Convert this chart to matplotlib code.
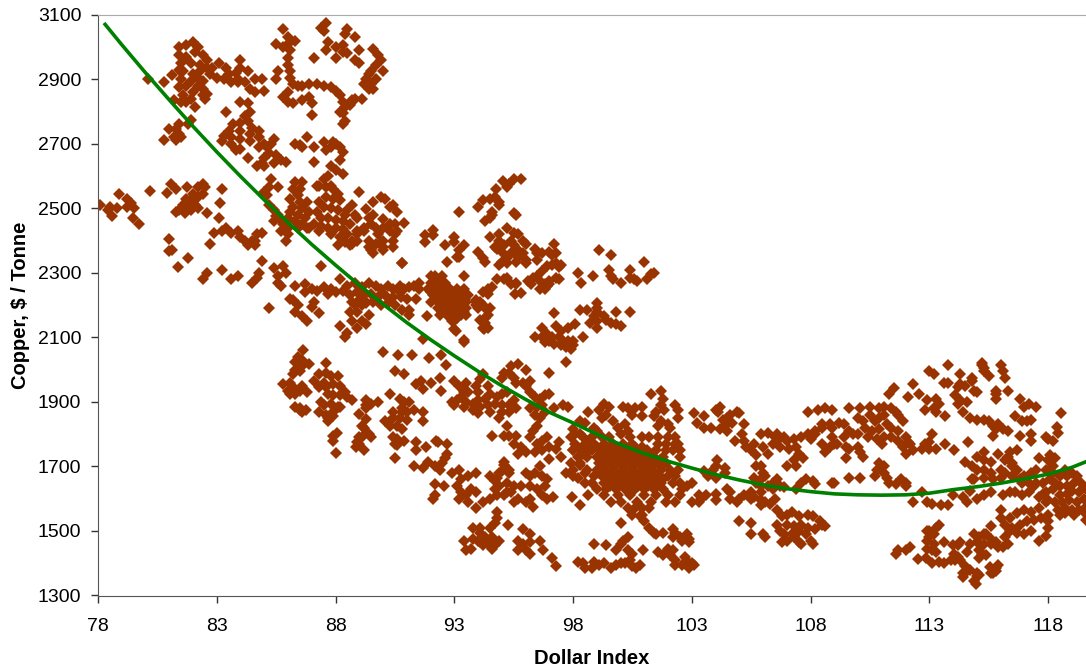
import matplotlib
matplotlib.use("Agg")
import matplotlib.pyplot as plt

plt.rcParams['font.family'] = ['Liberation Sans', 'DejaVu Sans']

# Dollar index / copper readings, grouped by area of the cloud
top_left = [(81.4,3000),(81.7,3005),(82.0,3015),(82.2,3000),(81.4,2975),(81.7,2970),(82.1,2985),(82.4,2975),
    (81.5,2950),(81.9,2950),(82.3,2945),(82.6,2960),(81.4,2930),(81.6,2925),(82.0,2915),(82.3,2925),(82.6,2935),
    (82.8,2935),(82.7,2915),(82.2,2905),(81.5,2900),(81.9,2895),(82.4,2895),(80.1,2900),(80.8,2890),(81.1,2914),
    (81.4,2875),(81.7,2880),(82.2,2880),(82.4,2870),(82.0,2860),(81.6,2850),(81.2,2835),(81.5,2830),(81.9,2840),
    (82.4,2850),(82.5,2840),(82.1,2815),(81.7,2830),(82.6,2855),
    (83.1,2950),(83.4,2935),(83.8,2920),(84.0,2960),(84.0,2935),(84.3,2925),(84.6,2900),(84.9,2900),(83.0,2905),
    (83.3,2900),(83.6,2890),(83.9,2900),(84.2,2890),(84.4,2870),(84.6,2860),(85.0,2865),(83.5,2915),(83.9,2890)]
top_mid = [(85.8,3055),(86.0,3030),(86.0,3010),(86.3,3020),(85.5,3010),(85.8,3000),(86.1,2990),(86.0,2965),(86.0,2945),
    (86.1,2925),(86.1,2905),(86.2,2885),(86.4,2880),(86.6,2880),(86.9,2885),(85.6,2925),(85.5,2900),(86.0,2860),
    (85.8,2845),(86.0,2830),(86.2,2825),(86.6,2835),(87.0,2825),(86.9,2845),(87.0,2790),(87.1,2965),
    (87.4,3060),(87.6,3075),(87.5,3050),(87.7,3015),(87.6,2990),(88.0,2965),(88.0,3000),(88.3,3005),(88.4,3040),
    (88.5,3055),(88.8,3030),(88.3,2985),(88.5,2980),(88.8,2960),(89.0,2990),(89.0,2950),(89.6,2995),(89.8,2975),
    (89.9,2960),(89.7,2945),(89.5,2925),(89.4,2915),(89.3,2900),(89.5,2885),(89.7,2900),(89.2,2885),(89.4,2870),
    (90.0,2925),(89.6,2869),(89.1,2840),(87.2,2885),(87.5,2880),(87.8,2875),(88.0,2865),(88.2,2850),(88.3,2830),
    (88.4,2815),(88.2,2800),(88.6,2820),(88.7,2835),(88.8,2840),(88.3,2795),(88.3,2760),(88.4,2770)]
upper_left = [(83.4,2798),(84.0,2830),(84.3,2825),(84.4,2800),(84.2,2785),(84.0,2765),(84.3,2770),(84.5,2750),(83.7,2760),
    (84.0,2740),(84.4,2730),(84.8,2740),(83.5,2740),(83.3,2725),(83.6,2720),(84.0,2715),(84.4,2710),(84.8,2720),
    (85.0,2700),(85.3,2700),(85.4,2715),(85.1,2690),(84.8,2690),(83.2,2710),(83.6,2700),(83.8,2680),(84.0,2685),
    (85.2,2670),(85.5,2665),(85.7,2650),(85.4,2640),(85.9,2645),(85.0,2655),(84.9,2640),(85.0,2630),(84.3,2655),
    (84.7,2630),(80.8,2713),(81.0,2745),(81.4,2760),(81.3,2745),(81.4,2730),(81.2,2720),(81.5,2720),(81.3,2711),
    (81.8,2760),(81.9,2775),(86.3,2700),(86.5,2695),(86.8,2720),(86.6,2690),(87.1,2690),(87.5,2705),(87.6,2680),
    (87.9,2705),(88.0,2700),(88.2,2690),(88.3,2675),(87.8,2690),(88.2,2650),(87.1,2645)]
mid_cloud = [(85.3,2590),(85.2,2565),(85.0,2550),(85.6,2565),(85.1,2540),(85.2,2510),(85.4,2495),(85.6,2480),(85.9,2450),
    (86.0,2440),(85.7,2465),(85.4,2460),(85.7,2430),(85.9,2400),(86.0,2420),(85.8,2450),(85.5,2475),
    (86.3,2580),(86.6,2580),(87.2,2570),(87.5,2590),(87.7,2600),(87.8,2570),(87.8,2630),(88.0,2620),(88.3,2607),
    (86.2,2560),(86.4,2540),(86.1,2530),(86.5,2520),(86.2,2505),(86.6,2500),(86.8,2520),(86.1,2490),(86.4,2480),
    (86.7,2470),(86.3,2460),(86.6,2450),(86.4,2440),(86.8,2440),(86.0,2470),(86.9,2490),(86.5,2560),(86.9,2440),
    (87.3,2570),(87.6,2565),(87.9,2560),(88.1,2545),(87.6,2535),(87.9,2530),(88.2,2525),(87.3,2520),(87.5,2505),
    (87.8,2500),(88.1,2495),(88.4,2480),(88.7,2510),(87.2,2490),(87.4,2470),(87.7,2470),(88.0,2465),(88.3,2460),
    (88.5,2495),(88.8,2480),(87.1,2450),(87.4,2445),(87.7,2440),(88.0,2440),(88.3,2435),(88.6,2450),(88.9,2470),
    (87.3,2430),(87.8,2420),(88.2,2410),(88.5,2420),(88.7,2400),(88.4,2395),(88.1,2385),(88.6,2385),(88.9,2430),
    (89.0,2551),(89.3,2499),(89.6,2520),(89.9,2535),(90.1,2530),(90.4,2510),(90.6,2490),(90.3,2504),(90.3,2450),
    (89.6,2480),(89.4,2470),(89.5,2450),(89.7,2440),(90.0,2440),(90.3,2430),(90.5,2420),(89.8,2420),(89.2,2430),
    (89.2,2440),(88.9,2420),(89.4,2400),(89.7,2390),(89.9,2395),(90.0,2380),(90.4,2380),(90.4,2400),(90.6,2430),
    (89.4,2380),(89.5,2370),(89.6,2360),(90.0,2400),(90.0,2370),(90.5,2450),(90.9,2453),(90.0,2468),(88.7,2390),
    (88.9,2400),(90.8,2330)]
left_low = [(78.1,2510),(78.4,2495),(78.6,2475),(78.8,2500),(78.5,2505),(78.9,2545),(79.2,2530),(79.4,2515),(79.2,2505),
    (79.5,2500),(79.46,2471),(79.74,2452),(80.2,2555),(81.0,2405),(81.0,2368),(81.1,2370),(81.77,2347),(81.35,2318),
    (80.92,2547),(81.07,2576),(81.3,2560),(81.75,2565),(82.4,2575),(82.5,2565),(82.2,2565),(82.0,2545),(82.2,2535),
    (82.4,2545),(81.7,2530),(81.9,2525),(82.1,2510),(81.6,2510),(81.85,2505),(82.2,2500),(81.4,2495),(81.9,2495),
    (81.28,2489),(81.65,2485),(82.6,2485),(83.1,2470),(83.15,2515),(83.2,2560),(82.9,2425),(83.2,2430),(83.4,2440),
    (83.6,2425),(83.9,2430),(84.0,2410),(84.2,2400),(84.3,2385),(84.5,2400),(84.6,2385),(84.7,2420),(84.9,2425),
    (84.6,2400),(82.7,2390),(84.89,2337),(84.8,2300),(84.7,2285),(83.2,2310),(82.6,2300),(82.4,2280),(83.6,2280),
    (83.9,2290),(84.5,2270),(85.4,2315),(85.8,2320),(85.6,2290),(85.9,2300),(85.6,2270),(85.7,2260),(87.4,2320)]
band_2250 = [(86.3,2260),(86.7,2265),(87.0,2250),(86.7,2240),(87.2,2245),(87.5,2255),(87.7,2235),(86.2,2215),(87.8,2250),
    (88.2,2280),(88.5,2260),(88.8,2270),(89.1,2255),(89.4,2270),(89.7,2260),(89.9,2250),(90.2,2260),(90.4,2250),
    (90.7,2240),(88.0,2240),(88.3,2245),(88.6,2230),(88.9,2240),(89.2,2230),(89.5,2235),(89.8,2225),(90.1,2230),
    (90.4,2225),(88.7,2210),(89.0,2215),(89.3,2205),(89.6,2210),(89.9,2200),(90.2,2205),(90.5,2200),(90.8,2185),
    (90.7,2260),(90.9,2250),(91.1,2255),(91.5,2270),(91.3,2260),(91.5,2250),(90.75,2225),(91.0,2220),(91.4,2220),
    (85.2,2190),(86.1,2220),(86.4,2200),(86.3,2180),(86.6,2165),(86.8,2150),(87.1,2210),(87.3,2175),(87.0,2195),
    (88.2,2135),(88.5,2115),(88.4,2100),(88.7,2150),(88.9,2180),(89.1,2200),(89.3,2140),(89.4,2170),(88.9,2130),
    (89.1,2150),(89.3,2210),(88.8,2200),(88.6,2180),(91.1,2170),(91.1,2185),(91.85,2165),(91.7,2095)]
cluster_93 = {2290: [92.0, 92.2, 92.5, 93.4], 2270: [92.0, 92.3, 92.6], 2250: [91.9, 92.2, 92.5, 92.8, 93.1, 93.4],
    2240: [92.0, 92.35, 92.65, 92.95, 93.25], 2230: [92.1, 92.4, 92.7, 93.0, 93.3, 93.6],
    2220: [92.25, 92.55, 92.85, 93.15, 93.45], 2210: [92.0, 92.3, 92.6, 92.9, 93.2, 93.5],
    2200: [92.45, 92.75, 93.05, 93.35], 2190: [92.3, 92.6, 92.9, 93.2, 93.5], 2180: [92.5, 92.8, 93.1],
    2170: [92.4, 92.7, 93.0, 93.3], 2150: [93.0, 92.9]}
upper_95 = [(91.77,2417),(92.12,2432),(92.12,2417),(91.77,2396),(93.2,2490),(92.6,2385),(93.0,2395),(93.0,2410),(93.4,2385),
    (93.2,2370),(93.1,2348),(92.7,2335),(93.2,2350),(90.8,2330),(94.0,2505),(94.2,2525),(94.5,2530),(94.7,2535),
    (94.9,2520),(94.9,2510),(94.6,2490),(94.6,2480),(94.5,2470),(94.3,2460),(95.5,2484),(95.6,2480),(95.04,2584),
    (95.3,2575),(95.5,2590),(95.2,2565),(95.8,2590),(94.75,2560),(95.2,2440),(94.5,2410),(94.9,2420),(95.5,2425),
    (95.7,2420),(95.9,2400),(96.0,2390),(95.4,2400),(94.9,2400),(94.7,2380),(95.1,2385),(95.5,2385),(95.7,2370),
    (94.0,2365),(94.2,2345),(94.3,2335),(94.8,2375),(95.0,2365),(95.4,2360),(95.7,2350),(95.2,2345),(95.0,2335),
    (94.9,2325),(95.2,2330),(95.6,2335),(96.0,2340),(96.0,2330),(95.9,2360),(96.4,2375),(96.5,2360),(96.7,2360),
    (97.0,2365),(97.2,2390),(97.3,2360),(96.5,2340),(97.1,2355),(96.9,2320),(97.1,2325),(97.3,2330),(97.5,2325),
    (97.4,2318),(96.7,2305),(96.5,2290),(96.3,2285),(96.1,2275),(96.25,2265),(96.6,2275),(96.8,2265),(96.9,2260),
    (97.0,2275),(97.3,2285),(97.4,2280),(96.8,2250),(96.6,2250),(97.0,2265),(98.2,2300),(98.35,2270),(98.85,2290),
    (99.1,2370),(99.6,2355),(99.5,2310),(99.6,2290),(99.7,2280),(100.0,2270),(100.4,2285),(100.55,2280),(100.7,2275),
    (100.4,2310),(101.0,2335),(101.1,2280),(101.3,2295),(101.4,2300),(97.2,2175),(98.3,2184),(98.6,2185),(99.0,2205),
    (99.0,2180),(99.0,2190),(98.9,2165),(98.7,2145),(99.0,2150),(99.0,2130),(99.3,2165),(99.4,2155),(99.6,2145),
    (99.8,2140),(100.0,2135),(99.8,2180),(100.4,2178),(96.4,2100),(96.7,2130),(96.9,2110),(97.1,2100),(97.3,2135),
    (97.5,2120),(97.8,2130),(98.1,2140),(96.8,2085),(97.0,2090),(97.2,2080),(97.4,2100),(97.6,2090),(97.8,2090),
    (98.0,2090),(98.4,2100),(97.5,2075),(97.7,2070),(97.9,2065),(96.7,2100),(98.0,2075),(97.7,2025),(93.1,2160),
    (93.4,2180),(93.5,2170),(93.0,2125),(93.08,2119),(93.4,2093),(93.4,2085),(93.9,2215),(93.9,2200),(94.2,2240),
    (94.8,2280),(94.6,2255),(94.4,2250),(94.4,2235),(94.1,2210),(94.2,2200),(94.3,2190),(94.4,2170),(93.9,2210),
    (94.0,2190),(94.5,2190),(94.3,2160),(94.1,2155),(94.3,2145),(94.4,2130),(94.2,2130),(94.27,2127),(95.2,2285),
    (95.1,2280),(95.4,2265),(95.6,2270),(95.6,2265),(95.55,2235),(95.8,2236)]
cluster_87 = [(86.64,2060),(86.4,2040),(86.6,2030),(86.3,2025),(86.6,2010),(86.3,2000),(86.2,1985),(86.5,1995),(86.9,2017),
    (85.8,1955),(86.1,1960),(86.0,1935),(86.3,1940),(86.5,1935),(86.6,1950),(86.8,1930),(86.3,1925),(86.1,1925),
    (86.3,1885),(86.5,1875),(86.6,1870),(86.75,1875),(86.5,1880),(87.6,2020),(87.6,1990),(87.3,1985),(87.1,1965),
    (87.5,1960),(87.8,1980),(88.1,1980),(87.3,1945),(87.6,1945),(87.9,1955),(88.2,1950),(88.4,1930),(87.7,1925),
    (87.9,1920),(88.2,1920),(88.5,1915),(88.7,1905),(88.1,1885),(87.5,1890),(87.3,1870),(87.6,1860),(87.9,1870),
    (88.2,1885),(87.8,1895),(87.4,1900),(87.7,1840),(87.7,1850),(87.9,1855),(88.05,1805),(87.9,1795),(87.9,1780),
    (88.02,1743),(89.0,1864),(89.3,1905),(89.5,1895),(89.8,1900),(89.3,1880),(89.3,1890),(89.3,1846),(89.1,1825),
    (89.2,1820),(89.4,1800),(89.5,1790),(89.0,1790),(89.0,1770),(88.85,1760),(89.2,1750),(89.1,1790),(88.9,1775)]
scatter_91 = [(90.0,2055),(90.65,2045),(91.2,2045),(91.95,2035),(92.45,2045),(92.65,2015),(90.5,1995),(90.9,1985),(91.4,1955),
    (91.6,1965),(91.7,1940),(92.0,1960),(92.4,1975),(92.45,1935),(93.0,1965),(90.3,1925),(90.7,1910),(90.9,1900),
    (91.1,1900),(90.8,1880),(90.4,1870),(90.8,1870),(91.3,1875),(91.0,1870),(90.1,1840),(90.4,1850),(90.7,1850),
    (91.0,1845),(90.3,1825),(90.6,1825),(90.8,1815),(90.4,1790),(90.6,1785),(90.9,1780),(90.6,1765),(90.5,1770),
    (91.7,1870),(91.7,1840),(91.4,1775),(91.8,1760),(91.4,1750),(90.5,1725),(92.25,1780),(92.3,1775),(92.7,1770),
    (92.7,1740),(91.3,1700),(91.7,1695),(91.9,1715),(92.2,1700),(92.4,1690),(92.5,1710),(92.6,1725),(92.9,1680),
    (93.2,1690),(93.3,1660),(93.6,1670),(93.9,1680),(92.19,1645),(92.55,1640),(92.2,1610),(92.1,1600)]
low_95 = [(93.1,1640),(93.3,1620),(93.5,1610),(93.7,1630),(93.9,1620),(93.2,1600),(93.6,1590),(93.9,1570),(94.2,1590),(94.5,1600),
    (94.7,1630),(94.7,1655),(94.9,1680),(94.5,1670),(94.8,1665),(95.0,1685),(95.1,1705),(95.3,1680),(94.9,1640),
    (95.2,1650),(95.5,1640),(94.8,1610),(95.1,1610),(95.4,1620),(95.7,1600),(95.5,1590),(95.2,1620),(95.8,1640),
    (96.0,1680),(96.2,1670),(96.4,1680),(96.6,1700),(96.7,1670),(96.9,1660),(96.8,1640),(96.2,1640),(96.5,1630),
    (96.7,1610),(96.9,1600),(96.2,1600),(96.3,1575),(96.0,1590),(97.15,1605),(97.95,1605),(98.3,1580),(94.8,1560),
    (94.8,1540),(94.7,1525),(94.5,1510),(94.1,1510),(95.25,1520),(93.8,1510),(93.4,1470),(93.5,1440),(93.7,1445),
    (93.8,1475),(94.1,1495),(94.0,1470),(94.3,1480),(94.4,1460),(94.6,1480),(94.9,1470),(94.6,1445),(94.7,1455),
    (94.2,1455),(94.1,1465),(95.9,1505),(96.2,1490),(96.6,1470),(95.7,1470),(95.9,1460),(96.2,1465),(96.0,1440),
    (96.2,1430),(95.7,1440),(96.75,1440),(97.1,1415),(97.3,1392)]
upper_94 = [(95.7,2019),(95.4,2010),(95.1,1990),(95.0,1975),(95.3,1990),(95.5,1975),(95.6,1960),(95.9,1960),(96.0,2000),
    (96.2,1965),(96.0,1950),(97.0,1990),(93.2,1950),(93.5,1960),(93.4,1930),(93.6,1930),(93.9,1950),(94.0,1930),
    (94.1,1970),(94.2,1985),(94.4,1950),(93.1,1905),(93.3,1915),(93.5,1900),(93.8,1895),(94.0,1905),(94.3,1910),
    (94.5,1925),(94.8,1915),(95.0,1925),(95.2,1930),(93.0,1890),(93.4,1885),(93.8,1875),(94.1,1885),(94.4,1890),
    (94.7,1895),(95.0,1890),(95.3,1890),(95.5,1905),(95.6,1880),(95.0,1870),(95.3,1870),(94.5,1870),(92.9,1900),
    (94.0,1865),(96.2,1930),(96.4,1915),(96.6,1910),(96.8,1920),(97.0,1925),(96.2,1880),(96.5,1885),(96.7,1890),
    (96.4,1860),(96.6,1850),(96.8,1870),(96.5,1825),(96.3,1810),(97.2,1880),(97.6,1890),(97.8,1885),(94.9,1850),
    (95.2,1825),(94.6,1795),(95.1,1795),(95.3,1795),(95.6,1795),(96.2,1790),(95.5,1770),(95.8,1760),(96.0,1745),
    (95.7,1740),(96.5,1770),(96.7,1780),(96.9,1790),(96.4,1745),(96.7,1750),(97.0,1760),(97.4,1775),(97.3,1755),
    (97.0,1722),(97.5,1730),(95.1,1715),(95.3,1690),(97.9,1790),(98.3,1800),(98.6,1780),(98.0,1750),(98.3,1755),
    (98.7,1770),(98.4,1740),(98.6,1745),(98.0,1690),(98.3,1705),(97.7,1680),(98.0,1670),(98.2,1665),(98.5,1680)]
dense_100 = {1790: [98.4, 98.8, 99.2, 100.4, 100.9, 101.2, 101.6, 102.0, 102.3],
    1770: [98.1, 98.5, 98.9, 99.3, 99.7, 100.1, 100.5, 101.6, 101.9, 102.3, 102.4],
    1760: [99.0, 99.4, 99.8, 100.2, 100.6, 100.9],
    1750: [98.0, 98.4, 98.8, 99.1, 99.5, 99.9, 100.3, 100.7, 101.1, 101.5, 101.9, 102.2, 102.5],
    1740: [99.3, 99.65, 100.0, 100.45, 100.85, 101.25],
    1730: [98.2, 98.6, 99.0, 99.4, 99.8, 100.2, 100.6, 101.0, 101.4, 101.8, 102.5],
    1720: [99.25, 99.65, 100.05, 100.45, 100.85, 101.25, 101.65],
    1710: [97.9, 98.3, 99.1, 99.5, 99.9, 100.3, 100.7, 101.1, 101.5, 101.9],
    1700: [99.3, 99.7, 100.1, 100.5, 100.9, 101.3, 101.7],
    1690: [98.6, 99.0, 99.3, 99.7, 100.1, 100.5, 100.9, 101.3, 101.7, 102.1, 102.4],
    1680: [99.1, 99.45, 99.85, 100.25, 100.65, 101.05, 101.45],
    1670: [98.9, 99.2, 99.6, 100.0, 100.4, 100.8, 101.2, 101.6, 102.0, 102.3],
    1660: [99.4, 99.8, 100.2, 100.6, 101.0, 101.4, 101.8],
    1650: [98.5, 98.8, 99.3, 99.7, 100.1, 100.5, 100.9, 101.3, 101.7, 102.2, 102.5],
    1640: [99.55, 99.95, 100.35, 100.75, 101.15, 101.55],
    1630: [99.0, 99.4, 99.8, 100.2, 100.6, 101.0, 101.4, 101.8, 102.6],
    1610: [98.65, 99.3, 99.9, 100.4, 101.0, 101.5, 102.0, 102.5],
    1590: [99.6, 100.0, 100.7, 101.3, 101.9, 102.3],
    1570: [100.3, 100.6, 100.9, 101.2]}
upper_100 = [(101.3,1924),(101.7,1935),(101.8,1910),(101.7,1890),(101.85,1875),(102.3,1890),(102.4,1875),(101.5,1870),(101.4,1855),
    (102.4,1850),(101.7,1840),(102.0,1830),(101.6,1825),(102.1,1820),(99.3,1895),(99.5,1885),(99.1,1875),(99.4,1860),
    (98.65,1870),(99.2,1850),(100.1,1885),(100.3,1880),(100.5,1860),(100.6,1880),(100.9,1885),(100.9,1855),(99.7,1840),
    (99.9,1820),(100.2,1830),(100.0,1800),(100.3,1810),(99.5,1790),(99.0,1810),(98.9,1820),(98.3,1840),(98.5,1835),
    (98.0,1815),(98.1,1800)]
low_100 = [(100.5,1550),(100.8,1545),(100.0,1525),(100.9,1550),(101.0,1530),(101.2,1510),(101.5,1490),(101.4,1495),(101.8,1495),
    (100.3,1480),(102.2,1505),(102.3,1495),(102.5,1480),(102.8,1490),(102.9,1475),(102.2,1480),(102.6,1470),(102.9,1465),
    (98.9,1460),(99.4,1455),(99.8,1440),(100.0,1460),(100.1,1470),(100.3,1440),(100.5,1430),(98.2,1405),(98.4,1400),
    (98.5,1385),(98.8,1385),(98.9,1405),(99.1,1395),(99.3,1400),(99.6,1385),(99.8,1395),(100.0,1400),(100.2,1400),
    (100.4,1410),(100.5,1390),(100.65,1385),(100.8,1395),(100.95,1440),(101.6,1435),(101.8,1425),(102.1,1425),(102.0,1445),
    (102.2,1440),(102.3,1410),(102.6,1395),(102.9,1400),(102.3,1395),(102.9,1385),(103.0,1400),(103.1,1395),(102.7,1420)]
mid_105 = [(102.8,1640),(103.0,1650),(103.3,1610),(103.4,1600),(103.6,1610),(104.0,1615),(104.0,1595),(103.0,1590),(103.3,1590),
    (104.05,1720),(104.0,1700),(103.9,1690),(104.4,1695),(104.4,1680),(103.5,1685),(103.7,1670),(104.0,1665),(104.5,1630),
    (104.6,1620),(104.6,1600),(105.0,1600),(104.9,1590),(103.1,1865),(103.5,1855),(103.2,1835),(103.5,1820),(103.8,1820),
    (104.0,1875),(104.1,1870),(104.2,1885),(104.3,1845),(104.5,1850),(104.6,1860),(104.9,1870),(105.0,1865),(104.7,1835),
    (104.4,1825),(104.2,1815),(104.5,1810),(105.2,1830),(104.8,1780),(105.1,1800),(105.2,1780),(105.3,1760),(105.6,1770),
    (105.5,1750),(105.7,1735),(105.9,1800),(106.2,1805),(106.4,1770),(106.0,1760),(106.2,1740),(106.5,1790),(105.7,1700),
    (105.9,1700),(105.9,1660),(106.0,1680),(105.6,1665),(105.7,1650),(105.9,1640),(106.4,1650),(106.6,1660),(106.2,1640),
    (106.4,1630),(106.7,1640),(106.9,1635),(107.4,1630),(105.9,1620),(105.5,1620),(105.2,1610),(105.5,1600),(105.6,1605),
    (105.9,1595),(106.1,1590),(106.3,1585),(105.9,1580),(106.5,1600),(106.1,1670),(105.0,1530),(105.5,1525),(105.5,1490),
    (106.0,1490),(106.1,1480),(106.6,1800),(106.9,1790),(107.0,1780),(107.3,1785),(107.6,1790),(107.9,1800),(108.0,1785),
    (108.2,1810),(108.5,1820),(108.8,1830),(106.6,1780),(106.7,1760),(107.1,1755),(107.4,1760),(107.5,1740),(107.7,1725),
    (107.3,1720),(107.0,1700),(107.4,1700),(107.6,1650),(107.8,1660),(108.1,1655),(108.2,1645),(108.9,1650),(108.5,1833),
    (108.2,1800),(108.5,1770),(109.0,1770),(108.8,1760),(108.6,1745),(107.9,1870),(108.3,1875),(108.6,1880),(108.9,1875)]
low_107 = [(106.6,1565),(106.8,1545),(106.6,1520),(106.7,1500),(107.0,1550),(107.2,1560),(107.5,1545),(107.9,1550),(108.1,1545),
    (108.4,1530),(108.5,1520),(108.6,1515),(107.0,1520),(107.3,1515),(107.6,1520),(107.9,1510),(108.2,1505),(106.9,1490),
    (107.2,1490),(107.5,1500),(107.8,1490),(107.0,1470),(107.3,1480),(106.8,1465),(107.5,1465),(107.6,1460),(108.0,1470),
    (108.1,1460)]
cluster_110 = [(109.6,1880),(110.1,1880),(110.5,1885),(110.9,1880),(111.1,1885),(111.4,1880),(111.6,1870),(111.7,1860),(111.9,1840),
    (108.9,1820),(109.2,1835),(109.4,1830),(109.6,1810),(109.8,1800),(110.0,1850),(110.2,1840),(110.3,1820),(110.5,1860),
    (110.7,1840),(110.9,1850),(111.1,1860),(110.6,1810),(110.9,1815),(111.2,1830),(111.4,1820),(111.7,1810),(110.0,1800),
    (110.4,1790),(110.8,1785),(111.1,1790),(111.4,1790),(111.7,1780),(112.0,1790),(112.1,1775),(111.9,1760),(112.2,1770),
    (112.3,1750),(108.9,1790),(109.1,1770),(109.4,1790),(109.5,1760),(110.0,1760),(110.1,1745),(110.2,1730),(109.5,1725),
    (109.6,1755),(112.0,1740),(111.0,1770),(109.0,1650),(109.6,1665),(110.1,1665),(110.7,1670),(110.8,1690),(110.9,1710),
    (111.1,1700),(111.2,1665),(111.1,1680),(111.3,1650),(111.6,1645),(111.8,1660),(112.0,1640),(112.0,1650)]
upper_114 = [(111.5,1942),(111.3,1925),(112.1,1915),(112.3,1955),(112.55,1925),(112.9,1905),(113.3,1910),(113.4,1895),(113.2,1880),
    (112.8,1875),(113.66,1857),(113.3,1870),(113.1,1800),(113.0,1775),(112.8,1770),(112.7,1755),(113.0,1755),(113.3,1755),
    (113.65,1770),(114.05,1750),(114.65,1775),(113.0,1995),(113.2,1985),(113.8,2015),(113.6,1960),(113.8,1960),(114.3,1985),
    (114.3,1955),(114.2,1945),(114.5,1950),(114.8,1975),(114.8,1965),(115.0,1930),(114.9,1935),(114.1,1920),(114.3,1905),
    (114.2,1895),(114.6,1900),(114.4,1870),(115.2,2015),(115.3,2005),(115.2,2020),(115.3,1995),(115.5,1980),(116.0,2015),
    (116.1,1995),(116.2,1975),(115.8,1935),(115.8,1925),(115.8,1910),(116.3,1935),(114.7,1850),(115.0,1845),(115.3,1845),
    (115.5,1840),(115.7,1825),(115.9,1830),(115.8,1815),(116.1,1815),(116.3,1810),(115.7,1795),(116.6,1855),(116.8,1910),
    (117.0,1885),(117.2,1895),(117.5,1885),(116.9,1840),(117.1,1840),(117.3,1845),(116.8,1795),(117.3,1800),(117.3,1780),
    (117.9,1790),(118.0,1785),(118.2,1780),(118.36,1823),(118.4,1805),(118.55,1865)]
mid_116 = [(115.3,1745),(115.3,1720),(115.0,1730),(115.6,1715),(114.5,1715),(114.8,1700),(115.0,1690),(115.3,1690),(115.6,1680),
    (114.9,1660),(115.3,1665),(115.7,1660),(116.0,1690),(116.2,1720),(116.3,1730),(116.5,1710),(116.7,1690),(116.2,1680),
    (116.5,1670),(116.0,1665),(115.9,1740),(116.4,1745),(116.5,1700),(116.7,1750),(114.8,1660),(117.6,1725),(118.0,1720),
    (118.1,1735),(118.3,1725),(118.2,1700),(118.2,1680),(117.9,1690),(117.3,1680),(117.5,1690),(117.0,1670),(116.8,1660),
    (117.2,1650),(117.5,1650),(118.5,1670),(118.8,1670),(119.0,1680),(119.2,1670),(118.7,1690),(112.3,1590),(112.7,1620),
    (112.9,1590),(113.1,1585),(113.5,1580),(113.8,1580),(114.0,1610),(114.4,1605),(114.6,1590),(114.7,1625),(115.0,1600),
    (115.3,1610),(115.6,1620)]
low_right = [(116.1,1610),(116.4,1620),(116.6,1620),(116.9,1610),(117.2,1620),(116.9,1650),(117.4,1640),(117.6,1605),(117.8,1615),
    (116.0,1565),(116.0,1540),(116.4,1540),(116.7,1555),(117.0,1565),(117.3,1560),(117.6,1570),(117.9,1590),(116.2,1520),
    (116.5,1510),(116.8,1520),(117.1,1530),(117.4,1535),(117.7,1540),(118.0,1530),(118.0,1550),(115.6,1516),(116.2,1480),
    (116.4,1500),(116.7,1495),(117.0,1490),(117.3,1500),(117.6,1470),(117.9,1484),(118.0,1510),(115.3,1490),(115.6,1475),
    (114.9,1490),(115.1,1480),(115.4,1490),(115.8,1465),(115.9,1450),(116.1,1450),(116.3,1460),(114.7,1460),(115.0,1465),
    (115.3,1460),(115.6,1460),(114.6,1435),(115.2,1430),(117.8,1650),(118.1,1660),(118.3,1650),(118.5,1640),(118.8,1640),
    (119.1,1650),(119.4,1650),(117.9,1620),(118.2,1630),(118.5,1610),(118.8,1615),(119.0,1625),(119.3,1620),(119.6,1630),
    (118.0,1595),(118.3,1590),(118.6,1590),(118.9,1595),(119.2,1590),(119.5,1600),(118.4,1565),(118.7,1570),(119.0,1565),
    (119.3,1565),(119.6,1575),(118.5,1550),(118.7,1555),(119.1,1550),(119.5,1560),(119.6,1535)]
bottom_113 = [(111.7,1440),(112.0,1440),(112.2,1450),(111.6,1430),(112.54,1412),(112.85,1415),(113.1,1400),(112.9,1470),(113.0,1480),
    (113.2,1490),(113.3,1510),(113.4,1520),(112.9,1500),(113.0,1500),(112.9,1445),(113.1,1440),(113.2,1460),(113.6,1400),
    (113.9,1410),(114.1,1410),(113.6,1465),(114.0,1455),(114.2,1455),(114.3,1465),(114.05,1430),(114.2,1420),(113.3,1435),
    (113.4,1405),(114.3,1410),(114.5,1390),(114.6,1375),(114.4,1370),(114.43,1358),(114.7,1380),(115.0,1370),(114.9,1345),
    (115.0,1360),(114.95,1337),(115.1,1365),(115.1,1440),(115.1,1415),(115.4,1425),(115.56,1389),(115.8,1385),(115.9,1395),
    (115.6,1370),(115.7,1370),(115.8,1375)]

trend_x = [78.3, 79, 80, 81, 82, 83, 84, 85, 86, 87, 88, 89, 90, 91, 92, 93, 94, 95, 96, 97, 98, 99, 100, 101,
           102, 103, 104, 105, 106, 107, 108, 109, 110, 111, 112, 113, 114, 115, 116, 117, 118, 119, 119.65]
trend_y = [3070, 3007, 2920, 2836, 2754, 2675, 2599, 2526, 2456, 2388, 2324, 2262, 2203, 2146, 2093, 2043, 1995, 1950,
           1908, 1868, 1835, 1800, 1768, 1740, 1716, 1695, 1675, 1658, 1643, 1631, 1622, 1615, 1612, 1611, 1612, 1617,
           1628, 1637, 1648, 1661, 1676, 1697, 1716]

x_ticks = [78, 83, 88, 93, 98, 103, 108, 113, 118]
y_ticks = [1300, 1500, 1700, 1900, 2100, 2300, 2500, 2700, 2900, 3100]

pts = (top_left + top_mid + upper_left + mid_cloud + left_low + band_2250 + upper_95 + cluster_87 + scatter_91
       + low_95 + upper_94 + upper_100 + low_100 + mid_105 + low_107 + cluster_110 + upper_114 + mid_116
       + low_right + bottom_113)
for rows in (cluster_93, dense_100):
    for copper_val, xs in rows.items():
        pts = pts + [(v, copper_val) for v in xs]
dollar = [p[0] for p in pts]
copper = [p[1] for p in pts]

fig = plt.figure(figsize=(10.86, 6.68), dpi=100)
ax = fig.add_axes([98 / 1086, (668 - 595.5) / 668, 988 / 1086, 580.8 / 668])

ax.plot(dollar, copper, linestyle='none', marker='D', markersize=5.9, color='#993300', markeredgewidth=0)
ax.plot(trend_x, trend_y, color='#008000', linewidth=2.6)

ax.set_xlim(78, 119.6)
ax.set_ylim(1300, 3100)
ax.set_xticks(x_ticks)
ax.set_yticks(y_ticks)
ax.tick_params(labelsize=14, length=5, width=1, color='#333333')
ax.tick_params(axis='x', pad=11)
ax.tick_params(axis='y', pad=7)
ax.spines['right'].set_visible(False)
ax.spines['top'].set_color('#aaaaaa')
ax.spines['left'].set_color('#555555')
ax.spines['bottom'].set_color('#555555')
ax.set_xlabel("Dollar Index", fontsize=14.5, fontweight='bold', labelpad=10)
ax.set_ylabel("Copper, $ / Tonne", fontsize=14.5, fontweight='bold', labelpad=6)

fig.savefig("out.png", dpi=100)
